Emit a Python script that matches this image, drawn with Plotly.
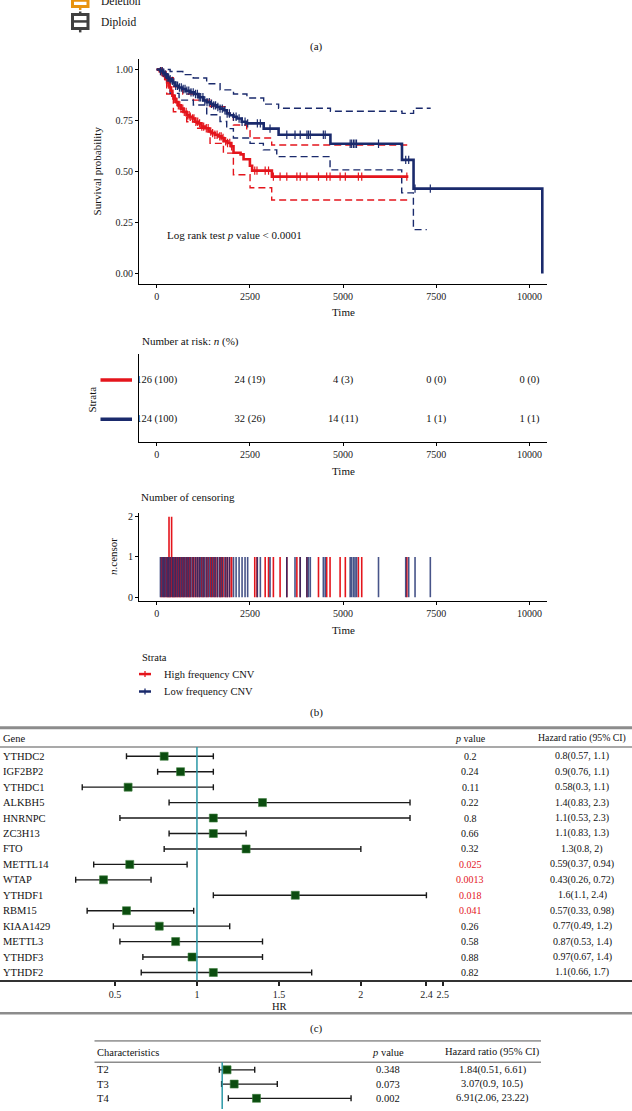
import numpy as np
import plotly.graph_objects as go

W, H = 632, 1111
FONT = "Liberation Serif"
RED, NAVY = "#e4151c", "#1a2a6c"
GREEN, TEAL, GREY = "#0b4d0f", "#2a98a7", "#8c8c8c"

# (b) Kaplan-Meier curves, high (red) vs low (navy) frequency CNV
red_t = [0, 80, 150, 200, 250, 300, 340, 380, 420, 470, 520, 580, 650, 720, 800, 880, 960, 1030,
         1110, 1200, 1300, 1390, 1480, 1560, 1650, 1740, 1800, 1900, 2000, 2060, 2250, 2330, 2500,
         2560, 3090, 6750]
red_s = [1.0, .992, .984, .968, .952, .936, .912, .896, .872, .856, .84, .824, .808, .792, .776, .768,
         .76, .744, .736, .72, .712, .696, .688, .68, .672, .664, .648, .64, .624, .592, .584, .56,
         .528, .504, .475, .475]
blue_t = [0, 100, 170, 230, 280, 330, 380, 430, 500, 580, 680, 780, 900, 1000, 1120, 1250, 1340,
          1450, 1520, 1620, 1700, 1800, 1880, 1960, 2060, 2150, 2280, 2400, 2870, 3270, 4660, 6580,
          6890, 10344]
blue_s = [1.0, .992, .984, .976, .96, .952, .944, .936, .92, .912, .904, .896, .888, .88, .864, .848,
          .84, .832, .824, .816, .808, .8, .784, .776, .768, .76, .744, .736, .71, .68, .636, .557,
          .416, 0.0]

red_up_t = [0, 100, 250, 447, 700, 983, 1431, 1878, 2057, 2415, 2504, 3085, 6750]
red_up_s = [1.0, .99, .96, .915, .88, .85, .818, .788, .728, .70, .664, .63, .63]
red_lo_t = [0, 100, 268, 447, 805, 1073, 1431, 1789, 2057, 2504, 3085, 6750]
red_lo_s = [1.0, .97, .88, .793, .744, .712, .638, .59, .484, .42, .36, .36]
blue_up_t = [0, 360, 700, 980, 1340, 1700, 2060, 2420, 2870, 3270, 4660, 6580, 6890, 7350]
blue_up_s = [1.0, .99, .975, .958, .93, .9, .88, .86, .83, .81, .795, .785, .81, .81]
blue_lo_t = [0, 150, 358, 600, 983, 1342, 1699, 1878, 2057, 2504, 2861, 3220, 4650, 6573, 6886, 7245]
blue_lo_s = [1.0, .97, .883, .85, .826, .778, .745, .71, .664, .638, .606, .573, .508, .395, .215, .215]

red_cens_t = [120, 170, 210, 260, 300, 330, 365, 400, 430, 470, 500, 540, 580, 620, 650, 700, 740,
              790, 830, 870, 900, 960, 1000, 1050, 1100, 1150, 1210, 1260, 1330, 1380, 1450, 1500,
              1560, 1620, 1690, 1730, 1780, 1850, 1900, 1960, 2010, 2630, 2690, 2910, 3000, 3130,
              3310, 3490, 3760, 3850, 4030, 4340, 4560, 4650, 4920, 5060, 5410, 5500, 6710]
red_cens_n = [1, 1, 1, 1, 1, 2, 1, 2, 1, 1, 1, 1, 1, 1, 1, 1, 1, 1, 1, 1, 1, 1, 1, 1, 1, 1, 1, 1,
              1, 1, 1, 1, 1, 1, 1, 1, 1, 1, 1, 1, 1, 1, 1, 1, 1, 1, 1, 1, 1, 1, 1, 1, 1, 1, 1, 1,
              1, 1, 1]
blue_cens_t = [100, 150, 190, 230, 280, 320, 360, 420, 460, 510, 560, 610, 660, 710, 760, 810, 860,
               920, 980, 1040, 1090, 1140, 1180, 1240, 1290, 1350, 1410, 1470, 1530, 1580, 1640,
               1700, 1760, 1830, 1890, 1950, 2060, 2130, 2210, 2290, 2370, 2440, 2700, 2780, 3040,
               3490, 3710, 3850, 4030, 4070, 4120, 4470, 4520, 5190, 5230, 5280, 5320, 5360, 5950,
               6680, 6760, 6930, 7340]
blue_cens_n = [1, 1, 1, 1, 1, 1, 1, 1, 1, 1, 1, 1, 1, 1, 1, 1, 1, 1, 1, 1, 1, 1, 1, 1, 1, 1, 1, 1,
               1, 1, 1, 1, 1, 1, 1, 1, 1, 1, 1, 1, 1, 1, 1, 1, 1, 1, 1, 1, 1, 1, 1, 1, 1, 1, 1, 1,
               1, 1, 1, 1, 1, 1, 1]

risk_t = [0, 2500, 5000, 7500, 10000]
red_n = [126, 24, 4, 0, 0]
red_pct = [100, 19, 3, 0, 0]
blue_n = [124, 32, 14, 1, 1]
blue_pct = [100, 26, 11, 1, 1]

# (c) univariate cox per gene
genes = ["YTHDC2", "IGF2BP2", "YTHDC1", "ALKBH5", "HNRNPC", "ZC3H13", "FTO", "METTL14", "WTAP",
         "YTHDF1", "RBM15", "KIAA1429", "METTL3", "YTHDF3", "YTHDF2"]
hr = [0.8, 0.9, 0.58, 1.4, 1.1, 1.1, 1.3, 0.59, 0.43, 1.6, 0.57, 0.77, 0.87, 0.97, 1.1]
hr_lo = [0.57, 0.76, 0.3, 0.83, 0.53, 0.83, 0.8, 0.37, 0.26, 1.1, 0.33, 0.49, 0.53, 0.67, 0.66]
hr_hi = [1.1, 1.1, 1.1, 2.3, 2.3, 1.3, 2, 0.94, 0.72, 2.4, 0.98, 1.2, 1.4, 1.4, 1.7]
pvals = ["0.2", "0.24", "0.11", "0.22", "0.8", "0.66", "0.32", "0.025", "0.0013", "0.018", "0.041",
         "0.26", "0.58", "0.88", "0.82"]
hr_ticks = [0.5, 1, 1.5, 2, 2.4, 2.5]

# (d) clinical characteristics
chars = ["T2", "T3", "T4"]
hr2 = [1.84, 3.07, 6.91]
hr2_lo = [0.51, 0.9, 2.06]
hr2_hi = [6.61, 10.5, 23.22]
pvals2 = ["0.348", "0.073", "0.002"]


def X(p):
    return p / W


def Y(p):
    return 1 - p / H


def surv_at(times, t_steps, s_steps):
    idx = np.searchsorted(t_steps, times, side="right") - 1
    return np.asarray(s_steps)[idx]


def segments(times, counts):
    # vertical line from 0 up to the count at each censoring time
    xs, ys = [], []
    for t, n in zip(times, counts):
        xs += [t, t, None]
        ys += [0, n, None]
    return xs, ys


fig = go.Figure()

for t, s, col in [(red_up_t, red_up_s, RED), (red_lo_t, red_lo_s, RED),
                  (blue_up_t, blue_up_s, NAVY), (blue_lo_t, blue_lo_s, NAVY)]:
    fig.add_trace(go.Scatter(x=t, y=s, mode="lines", xaxis="x", yaxis="y",
                             line=dict(color=col, width=1.4, dash="7px,4px", shape="hv")))
for t, s, col, ct in [(red_t, red_s, RED, red_cens_t), (blue_t, blue_s, NAVY, blue_cens_t)]:
    fig.add_trace(go.Scatter(x=t, y=s, mode="lines", xaxis="x", yaxis="y",
                             line=dict(color=col, width=2.6, shape="hv")))
    fig.add_trace(go.Scatter(x=ct, y=surv_at(ct, t, s), mode="markers", xaxis="x", yaxis="y",
                             marker=dict(symbol="line-ns", size=6, line=dict(color=col, width=1.2))))

# risk table
for row, n, pct in [(2, red_n, red_pct), (1, blue_n, blue_pct)]:
    fig.add_trace(go.Scatter(x=risk_t, y=[row] * len(risk_t), mode="text", xaxis="x2", yaxis="y2",
                             text=[f"{a} ({b})" for a, b in zip(n, pct)],
                             textfont=dict(family=FONT, size=10.5, color="#111")))

# number of censoring
for ct, cn, col, op in [(red_cens_t, red_cens_n, RED, 1.0), (blue_cens_t, blue_cens_n, NAVY, 0.8)]:
    sx, sy = segments(ct, cn)
    fig.add_trace(go.Scatter(x=sx, y=sy, mode="lines", xaxis="x3", yaxis="y3", opacity=op,
                             line=dict(color=col, width=1.6)))

# forest (c)
rows_c = list(range(len(genes), 0, -1))
fig.add_trace(go.Scatter(
    x=hr, y=rows_c, mode="markers", xaxis="x4", yaxis="y4",
    marker=dict(symbol="square", size=8, color=GREEN, line=dict(color="#3f7f3f", width=0.6)),
    error_x=dict(type="data", symmetric=False, array=np.array(hr_hi) - np.array(hr),
                 arrayminus=np.array(hr) - np.array(hr_lo), color="#1a1a1a", thickness=1.4, width=3)))

# forest (d)
rows_d = list(range(len(chars), 0, -1))
fig.add_trace(go.Scatter(
    x=hr2, y=rows_d, mode="markers", xaxis="x5", yaxis="y5",
    marker=dict(symbol="square", size=8, color=GREEN, line=dict(color="#3f7f3f", width=0.6)),
    error_x=dict(type="data", symmetric=False, array=np.array(hr2_hi) - np.array(hr2),
                 arrayminus=np.array(hr2) - np.array(hr2_lo), color="#1a1a1a", thickness=1.4, width=3)))

tickfont = dict(family=FONT, size=10, color="#222")


def axis(domain, rng, **kw):
    d = dict(domain=domain, range=rng, showgrid=False, zeroline=False, showline=True,
             linecolor="black", linewidth=1.1, ticks="outside", ticklen=3, tickwidth=1.1,
             tickcolor="black", tickfont=tickfont)
    d.update(kw)
    return d


xdom = [X(139), X(547)]
xr = [-475, 10470]
tv = [0, 2500, 5000, 7500, 10000]

ann = []


def txt(x, y, s, size=10.5, anchor="left", color="#111", angle=0, xref="paper", yref="paper"):
    ann.append(dict(x=X(x) if xref == "paper" else x, y=Y(y) if yref == "paper" else y,
                    xref=xref, yref=yref, text=s, showarrow=False, xanchor=anchor,
                    yanchor="middle", textangle=angle,
                    font=dict(family=FONT, size=size, color=color)))


# (a) legend remnants
txt(99, -1, "Deletion", 11.5)
txt(99, 20.5, "Diploid", 11.5)
txt(316, 44.5, "(a)", 11, "center")

# (b)
txt(97, 170, "Survival probability", 11, "center", angle=-90)
txt(343, 311, "Time", 11, "center")
txt(165, 234, "Log rank test <i>p</i> value < 0.0001", 11)
txt(140, 341, "Number at risk: <i>n</i> (%)", 11)
txt(92, 399, "Strata", 11, "center", angle=-90)
txt(343, 471, "Time", 11, "center")
txt(139, 497, "Number of censoring", 11)
txt(113, 557, "<i>n</i>.censor", 11, "center", angle=-90)
txt(343, 630, "Time", 11, "center")
txt(140, 658, "Strata", 10.5)
txt(162, 674.5, "High frequency CNV", 10.5)
txt(162, 692, "Low frequency CNV", 10.5)
txt(316, 713, "(b)", 11, "center")

# (c)
txt(1, 739, "Gene", 10.5)
txt(470, 739, "<i>p</i> value", 10, "center")
txt(582, 739, "Hazard ratio (95% CI)", 9.8, "center")
for g, r, p, h, lo, hi in zip(genes, rows_c, pvals, hr, hr_lo, hr_hi):
    txt(1, r, g, 10.5, yref="y4")
    txt(470, r, p, 10, "center", color=RED if float(p) < 0.05 else "#111", yref="y4")
    txt(582, r, f"{h:g}({lo:g}, {hi:g})", 10, "center", yref="y4")
txt(279, 1008.5, "HR", 10.5, "center")
txt(316, 1030, "(c)", 11, "center")

# (d)
txt(94.5, 1054, "Characteristics", 10.5)
txt(388, 1054, "<i>p</i> value", 10.5, "center")
txt(492.5, 1054, "Hazard ratio (95% CI)", 10.5, "center")
for c, r, p, h, lo, hi in zip(chars, rows_d, pvals2, hr2, hr2_lo, hr2_hi):
    txt(94.5, r, c, 10.5, yref="y5")
    txt(388, r, p, 10.5, "center", yref="y5")
    txt(492.5, r, f"{h:g}({lo:g}, {hi:g})", 10.5, "center", yref="y5")


def hline(y, x0, x1, color, width):
    return dict(type="line", xref="paper", yref="paper", x0=X(x0), x1=X(x1), y0=Y(y), y1=Y(y),
                line=dict(color=color, width=width))


def vline(x, y0, y1, color, width):
    return dict(type="line", xref="paper", yref="paper", x0=X(x), x1=X(x), y0=Y(y0), y1=Y(y1),
                line=dict(color=color, width=width))


ORANGE, DARK = "#e8930f", "#404040"
shapes = [
    # legend glyphs from panel (a)
    dict(type="rect", xref="paper", yref="paper", x0=X(72.5), x1=X(88), y0=Y(-8), y1=Y(4.5),
         line=dict(color=ORANGE, width=3), fillcolor="white"),
    hline(-1.5, 72.5, 88, ORANGE, 2.5),
    vline(80.2, 4.5, 8, ORANGE, 2.5),
    dict(type="rect", xref="paper", yref="paper", x0=X(72.5), x1=X(88), y0=Y(26.5), y1=Y(12.5),
         line=dict(color=DARK, width=3), fillcolor="white"),
    hline(19.5, 72.5, 88, DARK, 2.5),
    vline(80.2, 9.5, 12.5, DARK, 2.5),
    vline(80.2, 26.5, 30.5, DARK, 2.5),
    # risk table strata swatches
    dict(type="line", xref="paper", yref="y2", x0=X(100.5), x1=X(132), y0=2, y1=2,
         line=dict(color=RED, width=3.5)),
    dict(type="line", xref="paper", yref="y2", x0=X(100.5), x1=X(132), y0=1, y1=1,
         line=dict(color=NAVY, width=3.5)),
    # strata legend
    hline(674.5, 139, 151, RED, 2.5), vline(145, 671.5, 677.5, RED, 1.3),
    hline(692, 139, 151, NAVY, 2.5), vline(145, 689, 695, NAVY, 1.3),
    # panel rules
    hline(728.3, 0, 632, GREY, 3),
    hline(747.7, 0, 632, GREY, 1.5),
    hline(1015, 0, 632, GREY, 2.5),
    hline(1042.7, 94.5, 541, "#555", 1),
    hline(1064, 94.5, 541, GREY, 1.5),
    # reference lines HR = 1
    dict(type="line", xref="x4", yref="paper", x0=1, x1=1, y0=Y(981.7), y1=Y(747.7),
         line=dict(color=TEAL, width=1.5)),
    dict(type="line", xref="x5", yref="paper", x0=1, x1=1, y0=0, y1=Y(1064),
         line=dict(color=TEAL, width=1.5)),
]

fig.update_layout(
    width=W, height=H, margin=dict(l=0, r=0, t=0, b=0),
    paper_bgcolor="white", plot_bgcolor="white", showlegend=False,
    font=dict(family=FONT),
    xaxis=axis(xdom, xr, anchor="y", tickvals=tv, tickformat="d"),
    yaxis=axis([Y(282.7), Y(57.5)], [-0.05, 1.05], anchor="x",
               tickvals=[0, 0.25, 0.5, 0.75, 1], tickformat=".2f"),
    xaxis2=axis(xdom, xr, anchor="y2", tickvals=tv, tickformat="d"),
    yaxis2=axis([Y(441.7), Y(353)], [0.416, 2.667], anchor="x2", ticks="", showticklabels=False),
    xaxis3=axis(xdom, xr, anchor="y3", tickvals=tv, tickformat="d"),
    yaxis3=axis([Y(601), Y(513)], [-0.09, 2.09], anchor="x3", tickvals=[0, 1, 2]),
    xaxis4=axis([0, 1], [-0.2017, 3.6544], anchor="y4", tickvals=hr_ticks,
                ticktext=[f"{v:g}" for v in hr_ticks], ticklen=4, linecolor="#333",
                linewidth=1.5, tickwidth=1.5, tickcolor="#222"),
    yaxis4=dict(domain=[Y(981.7), Y(747.7)], range=[0.503, 15.6], visible=False, anchor="x4"),
    xaxis5=dict(domain=[0, 1], range=[-37.31, 71.66], visible=False, anchor="y5"),
    yaxis5=dict(domain=[0, Y(1064)], range=[0.252, 3.538], visible=False, anchor="x5"),
    annotations=ann, shapes=shapes,
)

# the page's default body margin would push the 632 px figure off the window edge
fig.write_html("out.html", config={"displayModeBar": False},
               post_script="document.body.style.margin='0';document.body.style.overflow='hidden';")
